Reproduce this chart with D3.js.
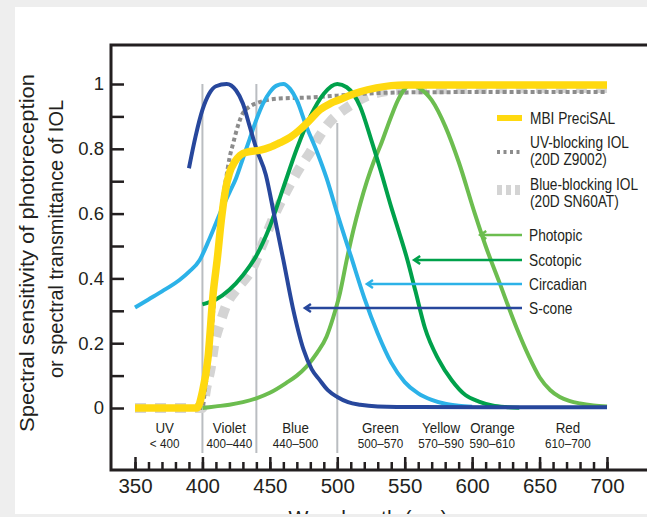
<!DOCTYPE html>
<html>
<head>
<meta charset="utf-8">
<script src="https://cdn.jsdelivr.net/npm/d3@7"></script>
<style>
  body { margin: 0; background: #eeeeee; }
  svg text { font-family: "Liberation Sans", Arial, sans-serif; fill: #231f20; }
</style>
</head>
<body>
<div id="chart"></div>
<script>
// series: [wavelength nm, relative value]
const sCone = [[390,0.74],[395,0.84],[400,0.92],[405,0.97],[410,0.993],[418,1.0],[425,0.98],[430,0.94],[435,0.87],[440,0.8],[447,0.72],[453,0.6],[460,0.457],[467,0.31],[475,0.18],[481,0.12],[487,0.086],[493,0.055],[500,0.034],[508,0.018],[517,0.01],[530,0.005],[560,0.003],[700,0.002]]
const circadian = [[350,0.31],[360,0.335],[370,0.36],[383,0.395],[390,0.42],[398,0.457],[405,0.52],[410,0.57],[415,0.62],[420,0.665],[425,0.71],[430,0.77],[435,0.83],[440,0.89],[445,0.94],[450,0.975],[455,0.995],[460,1.0],[465,0.985],[470,0.95],[477,0.87],[485,0.79],[492,0.71],[500,0.6],[510,0.47],[520,0.34],[530,0.23],[540,0.14],[550,0.08],[560,0.045],[570,0.025],[580,0.013],[590,0.007],[600,0.004]]
const scotopic = [[400,0.32],[410,0.335],[420,0.365],[430,0.41],[440,0.47],[450,0.56],[460,0.68],[470,0.8],[480,0.9],[490,0.97],[500,1.0],[507,0.99],[517,0.93],[525,0.83],[532,0.735],[540,0.62],[546,0.54],[552,0.457],[558,0.36],[565,0.247],[575,0.15],[585,0.085],[595,0.04],[605,0.02],[615,0.008],[625,0.003],[635,0.001]]
const photopic = [[400,0.0],[410,0.005],[420,0.01],[430,0.018],[440,0.03],[450,0.047],[462,0.077],[470,0.1],[477,0.127],[485,0.17],[492,0.22],[497,0.28],[502,0.355],[507,0.457],[512,0.55],[517,0.63],[522,0.7],[527,0.76],[532,0.81],[540,0.9],[545,0.95],[550,0.985],[555,1.0],[560,0.99],[570,0.95],[580,0.87],[590,0.76],[602,0.6],[610,0.5],[620,0.39],[633,0.247],[642,0.16],[650,0.095],[658,0.055],[665,0.034],[672,0.022],[680,0.014],[690,0.008],[700,0.005]]
const uvBlocking = [[350,0],[400,0],[402,0.06],[405,0.15],[408,0.3],[410,0.42],[413,0.57],[416,0.67],[418,0.72],[420,0.77],[423,0.82],[427,0.88],[430,0.91],[435,0.93],[443,0.945],[457,0.955],[477,0.958],[500,0.964],[520,0.97],[550,0.974],[600,0.975],[700,0.975]]
const blueBlocking = [[350,0],[400,0],[403,0.065],[406,0.12],[409,0.2],[413,0.26],[418,0.32],[426,0.37],[437,0.43],[445,0.51],[455,0.61],[465,0.69],[472,0.74],[480,0.79],[487,0.84],[495,0.885],[500,0.905],[510,0.935],[519,0.957],[532,0.975],[550,0.982],[600,0.985],[700,0.988]]
const preciSAL = [[350,0],[396,0],[400,0.05],[404,0.15],[408,0.355],[411,0.46],[414,0.58],[417,0.67],[420,0.725],[424,0.76],[428,0.78],[433,0.79],[443,0.796],[450,0.805],[457,0.818],[465,0.835],[472,0.858],[480,0.89],[487,0.92],[495,0.94],[502,0.952],[510,0.966],[517,0.976],[529,0.988],[540,0.995],[550,0.997],[600,0.997],[700,0.997]]

const xTicksMajor = [350, 400, 450, 500, 550, 600, 650, 700]
const yTickLabels = [0, 0.2, 0.4, 0.6, 0.8, 1]
const dividerNm = [400, 440, 500]
const dividerTop = [1.0, 1.0, 0.88]
const bandNames = ["UV", "Violet", "Blue", "Green", "Yellow", "Orange", "Red"]
const bandRanges = ["< 400", "400\u2013440", "440\u2013500", "500\u2013570", "570\u2013590", "590\u2013610", "610\u2013700"]
const bandLabelNm = [372, 420, 469, 532, 577, 615, 671]
const arrowNames = ["Photopic", "Scotopic", "Circadian", "S-cone"]
const arrowTipNm = [606, 557, 522, 476]

const W = 647, H = 517
const svg = d3.select("#chart").append("svg").attr("width", W).attr("height", H)

svg.append("rect").attr("x", 15).attr("y", 7).attr("width", W - 15).attr("height", H - 10).attr("fill", "#fff")

const x = d3.scaleLinear().domain([350, 700]).range([135, 607])
const y = d3.scaleLinear().domain([0, 1]).range([408, 84])
const axisLeftX = 111, axisBottomY = 470, frameTop = 45

// squeeze text horizontally to mimic a condensed face
function condense(sel, k) {
  sel.each(function () {
    const len = this.getComputedTextLength()
    d3.select(this).attr("textLength", len * k).attr("lengthAdjust", "spacingAndGlyphs")
  })
}

// band dividers
svg.selectAll(".div").data(dividerNm).enter().append("line")
   .attr("x1", d => x(d)).attr("x2", d => x(d))
   .attr("y1", (d, i) => y(dividerTop[i]))
   .attr("y2", 453)
   .attr("stroke", "#babdc1").attr("stroke-width", 2)

const line = d3.line().x(d => x(d[0])).y(d => y(d[1])).curve(d3.curveMonotoneX)

const series = [
  { data: blueBlocking, color: "#d4d4d4", w: 10, dash: "11,9" },
  { data: uvBlocking, color: "#8c8c8c", w: 4, dash: "4,3" },
  { data: photopic, color: "#6cbd4f", w: 4 },
  { data: scotopic, color: "#00a14b", w: 4 },
  { data: circadian, color: "#2cb2e8", w: 4 },
  { data: sCone, color: "#27479c", w: 4 },
  { data: preciSAL, color: "#ffd90f", w: 7.5 }
]

svg.selectAll(".series").data(series).enter().append("path")
   .attr("d", d => line(d.data))
   .attr("fill", "none")
   .attr("stroke", d => d.color)
   .attr("stroke-width", d => d.w)
   .attr("stroke-dasharray", d => d.dash || null)
   .attr("stroke-linejoin", "round")

// frame
svg.append("path")
   .attr("d", `M${W},${frameTop}H${axisLeftX}V${axisBottomY}H${W}`)
   .attr("fill", "none").attr("stroke", "#231f20").attr("stroke-width", 3)

// x ticks (inward)
svg.append("g").attr("transform", `translate(0,${axisBottomY})`)
   .call(d3.axisTop(x).tickValues(d3.range(350, 701, 10)).tickSize(8).tickFormat(""))
svg.append("g").attr("transform", `translate(0,${axisBottomY})`)
   .call(d3.axisTop(x).tickValues(xTicksMajor).tickSize(13).tickFormat(""))
const xLab = svg.append("g").attr("transform", `translate(0,${axisBottomY})`)
   .call(d3.axisBottom(x).tickValues(xTicksMajor).tickSize(0).tickPadding(8))
xLab.selectAll("text").attr("font-size", 20.5).attr("fill", "#231f20")

// y ticks
svg.append("g").attr("transform", `translate(${axisLeftX},0)`)
   .call(d3.axisRight(y).tickValues(d3.range(0, 11).map(d => d / 10)).tickSize(13).tickFormat(""))
const yLab = svg.append("g").attr("transform", `translate(${axisLeftX},0)`)
   .call(d3.axisLeft(y).tickValues(yTickLabels).tickSize(0).tickPadding(7).tickFormat(d => String(d)))
yLab.selectAll("text").attr("font-size", 18.5).attr("fill", "#231f20")

svg.selectAll(".domain").remove()
svg.selectAll(".tick line").attr("stroke", "#231f20").attr("stroke-width", 2.5)
svg.selectAll("g").attr("font-family", null)

// y title, two lines
svg.append("text").attr("transform", "translate(34,253) rotate(-90)")
   .attr("text-anchor", "middle").attr("font-size", 21)
   .attr("textLength", 358).attr("lengthAdjust", "spacingAndGlyphs")
   .text("Spectral sensitivity of photoreception")
svg.append("text").attr("transform", "translate(63,239) rotate(-90)")
   .attr("text-anchor", "middle").attr("font-size", 21)
   .attr("textLength", 278).attr("lengthAdjust", "spacingAndGlyphs")
   .text("or spectral transmittance of IOL")

// x title (clipped by page edge)
svg.append("text").attr("x", 368).attr("y", 525).attr("text-anchor", "middle")
   .attr("font-size", 21).text("Wavelength (nm)")

// band labels
const bn = svg.selectAll(".band").data(bandNames).enter().append("text")
   .attr("x", (d, i) => x(bandLabelNm[i])).attr("y", 433)
   .attr("text-anchor", "middle").attr("font-size", 15.5).text(d => d)
condense(bn, 0.86)
const br = svg.selectAll(".range").data(bandRanges).enter().append("text")
   .attr("x", (d, i) => x(bandLabelNm[i])).attr("y", 448)
   .attr("text-anchor", "middle").attr("font-size", 13).text(d => d)
condense(br, 0.9)

// legend
const lg = svg.append("g")
lg.append("line").attr("x1", 497).attr("x2", 522).attr("y1", 118).attr("y2", 118)
  .attr("stroke", "#ffd90f").attr("stroke-width", 6)
lg.append("text").attr("x", 530).attr("y", 124).text("MBI PreciSAL")
lg.append("line").attr("x1", 497).attr("x2", 522).attr("y1", 152).attr("y2", 152)
  .attr("stroke", "#8c8c8c").attr("stroke-width", 4).attr("stroke-dasharray", "3,3.5")
lg.append("text").attr("x", 530).attr("y", 148).text("UV-blocking IOL")
lg.append("text").attr("x", 530).attr("y", 165).text("(20D Z9002)")
lg.append("line").attr("x1", 497).attr("x2", 522).attr("y1", 190).attr("y2", 190)
  .attr("stroke", "#d4d4d4").attr("stroke-width", 10).attr("stroke-dasharray", "5,4")
lg.append("text").attr("x", 530).attr("y", 190).text("Blue-blocking IOL")
lg.append("text").attr("x", 530).attr("y", 207).text("(20D SN60AT)")

// arrow callouts
const arrowColors = ["#6cbd4f", "#00a14b", "#2cb2e8", "#27479c"]
const arrowY = [235, 260, 284, 308]
arrowNames.forEach((name, i) => {
  const tx = x(arrowTipNm[i]), yy = arrowY[i]
  svg.append("path")
     .attr("d", `M522,${yy}H${tx}M${tx + 6},${yy - 4}L${tx},${yy}L${tx + 6},${yy + 4}`)
     .attr("fill", "none").attr("stroke", arrowColors[i]).attr("stroke-width", 2.5)
  lg.append("text").attr("x", 529).attr("y", yy + 5.5).text(name)
})
lg.selectAll("text").attr("font-size", 16.5)
condense(lg.selectAll("text"), 0.83)

// bottom page strip
svg.append("rect").attr("x", 0).attr("y", 514).attr("width", W).attr("height", 3).attr("fill", "#eeeeee")
</script>
</body>
</html>
